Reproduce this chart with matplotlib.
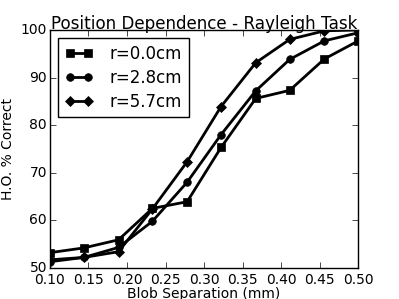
import matplotlib
matplotlib.use("Agg")
import matplotlib.pyplot as plt

plt.style.use("classic")

# dados
separation = [0.100, 0.144, 0.189, 0.233, 0.278, 0.322, 0.367, 0.411, 0.456, 0.500]
r00 = [53.2, 54.2, 55.9, 62.5, 63.9, 75.3, 85.6, 87.3, 93.9, 97.7]
r28 = [51.3, 52.2, 54.3, 59.8, 68.0, 78.0, 87.2, 93.8, 97.7, 99.4]
r57 = [51.7, 52.2, 53.4, 62.4, 72.3, 83.9, 93.1, 98.0, 99.8, 100.0]
labels = ["r=0.0cm", "r=2.8cm", "r=5.7cm"]

fig = plt.figure(figsize=(3.99, 2.99), dpi=100)
ax = fig.add_axes([0.125, 0.104, 0.773, 0.796])

ax.plot(separation, r00, "k-s", lw=2, ms=6, label=labels[0])
ax.plot(separation, r28, "k-o", lw=2, ms=5.5, label=labels[1])
ax.plot(separation, r57, "k-D", lw=2, ms=5.5, label=labels[2])

ax.set_xlim(0.10, 0.50)
ax.set_ylim(50, 100)
ax.set_xticks([0.10, 0.15, 0.20, 0.25, 0.30, 0.35, 0.40, 0.45, 0.50])
ax.set_yticks([50, 60, 70, 80, 90, 100])
ax.tick_params(labelsize=10)
ax.tick_params(axis="y", pad=2)
ax.set_xlabel("Blob Separation (mm)", fontsize=10, labelpad=0)
ax.set_ylabel("H.O. % Correct", fontsize=10, labelpad=4)
ax.set_title("Position Dependence - Rayleigh Task", fontsize=12.1, pad=1)
ax.legend(loc="upper left", fontsize=12, numpoints=2, handlelength=1.7,
          handletextpad=1.0, labelspacing=0.35)

fig.savefig("out.png", dpi=100)
